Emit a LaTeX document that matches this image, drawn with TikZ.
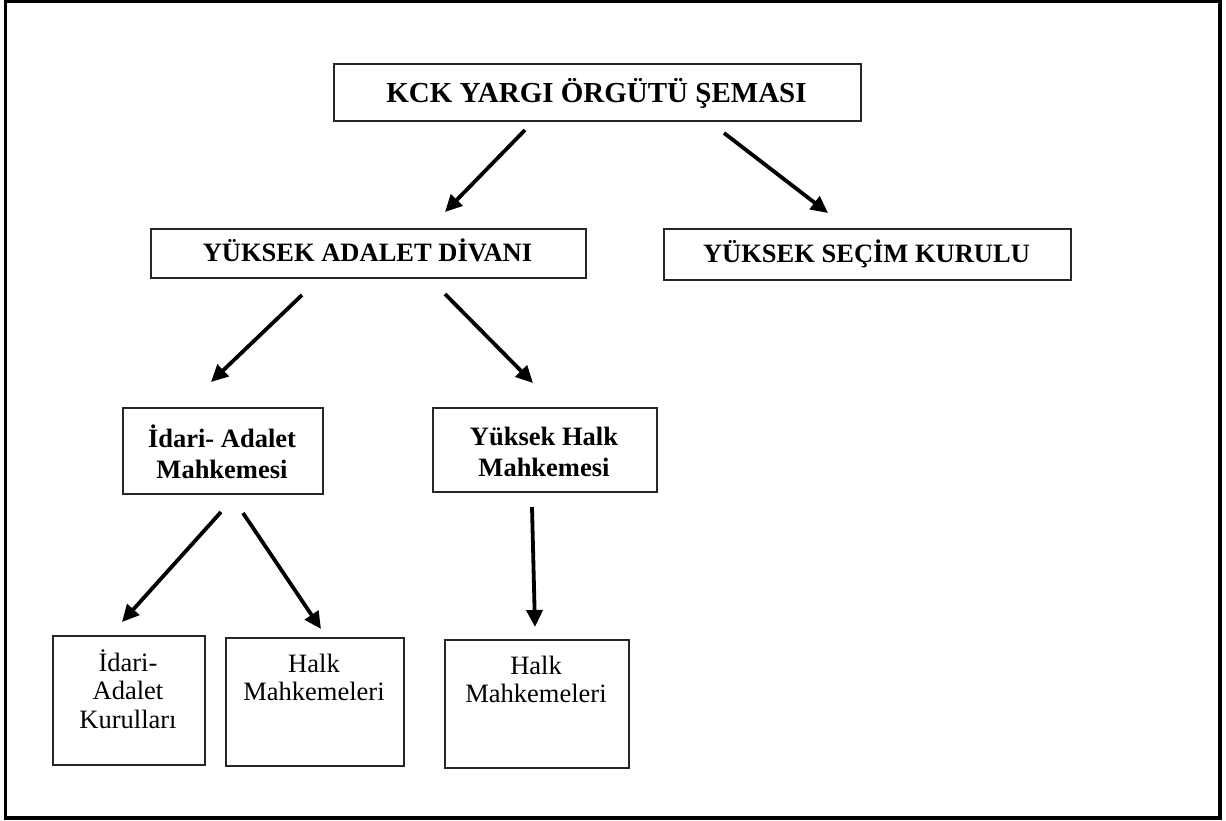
\documentclass[tikz,border=0pt]{standalone}
\usepackage{fontspec}
\setmainfont{Liberation Serif}
\usetikzlibrary{arrows.meta}
\begin{document}
\begin{tikzpicture}[x=1pt,y=-1pt,
  box/.style={draw=black!85,line width=1.8pt,inner sep=0pt,anchor=north west},
  lbl/.style={inner sep=0pt,align=center},
  bigfont/.style={font={\fontsize{29}{32}\selectfont\bfseries}},
  bfont/.style={font={\fontsize{26.5}{31}\selectfont\bfseries}},
  rfont/.style={font={\fontsize{26.5}{28.5}\selectfont}},
  arr/.style={line width=3.8pt,-{Triangle[length=17pt,width=16pt]}}]
\useasboundingbox (0,0) rectangle (1226,821);
\draw[line width=3.5pt] (5.5,1.5) rectangle (1220,818);
% boxes
\node[box,minimum width=527pt,minimum height=57pt] (title) at (333,63) {};
\node[box,minimum width=435pt,minimum height=49pt] (yad) at (150,228) {};
\node[box,minimum width=407pt,minimum height=51pt] (ysk) at (663,228) {};
\node[box,minimum width=200pt,minimum height=86pt] (iam) at (122,407) {};
\node[box,minimum width=224pt,minimum height=84pt] (yhm) at (432,407) {};
\node[box,minimum width=152pt,minimum height=129pt] (iak) at (52,635) {};
\node[box,minimum width=178pt,minimum height=128pt] (hm1) at (225,637) {};
\node[box,minimum width=184pt,minimum height=128pt] (hm2) at (444,639) {};
% texts
\node[lbl,bigfont,anchor=base] (title-t) at (596.5,102.5) {KCK YARGI ÖRGÜTÜ ŞEMASI};
\node[lbl,bfont,anchor=base] (yad-t) at (367.5,261.5) {YÜKSEK ADALET DİVANI};
\node[lbl,bfont,anchor=base] (ysk-t) at (866.5,262.5) {YÜKSEK SEÇİM KURULU};
\node[lbl,bfont,anchor=north] (iam-t) at (222,423) {\rule{0pt}{24pt}İdari- Adalet\\Mahkemesi};
\node[lbl,bfont,anchor=north] (yhm-t) at (544,421) {\rule{0pt}{24pt}Yüksek Halk\\Mahkemesi};
\node[lbl,rfont,anchor=north] (iak-t) at (128,647) {\rule{0pt}{24pt}İdari-\\Adalet\\Kurulları};
\node[lbl,rfont,anchor=north] (hm1-t) at (314,648) {\rule{0pt}{24pt}Halk\\Mahkemeleri};
\node[lbl,rfont,anchor=north] (hm2-t) at (536,650) {\rule{0pt}{24pt}Halk\\Mahkemeleri};
% arrow end points
\coordinate (a1s) at (525,130); \coordinate (a1e) at (445,212);
\coordinate (a2s) at (724,133); \coordinate (a2e) at (828,213);
\coordinate (a3s) at (302,295); \coordinate (a3e) at (211,382);
\coordinate (a4s) at (445,294); \coordinate (a4e) at (533,383);
\coordinate (a5s) at (221,512); \coordinate (a5e) at (122,622);
\coordinate (a6s) at (243,513); \coordinate (a6e) at (321,629);
\coordinate (a7s) at (532,507); \coordinate (a7e) at (535,627);
\draw[arr] (a1s) -- (a1e);
\draw[arr] (a2s) -- (a2e);
\draw[arr] (a3s) -- (a3e);
\draw[arr] (a4s) -- (a4e);
\draw[arr] (a5s) -- (a5e);
\draw[arr] (a6s) -- (a6e);
\draw[arr] (a7s) -- (a7e);
\end{tikzpicture}
\end{document}
